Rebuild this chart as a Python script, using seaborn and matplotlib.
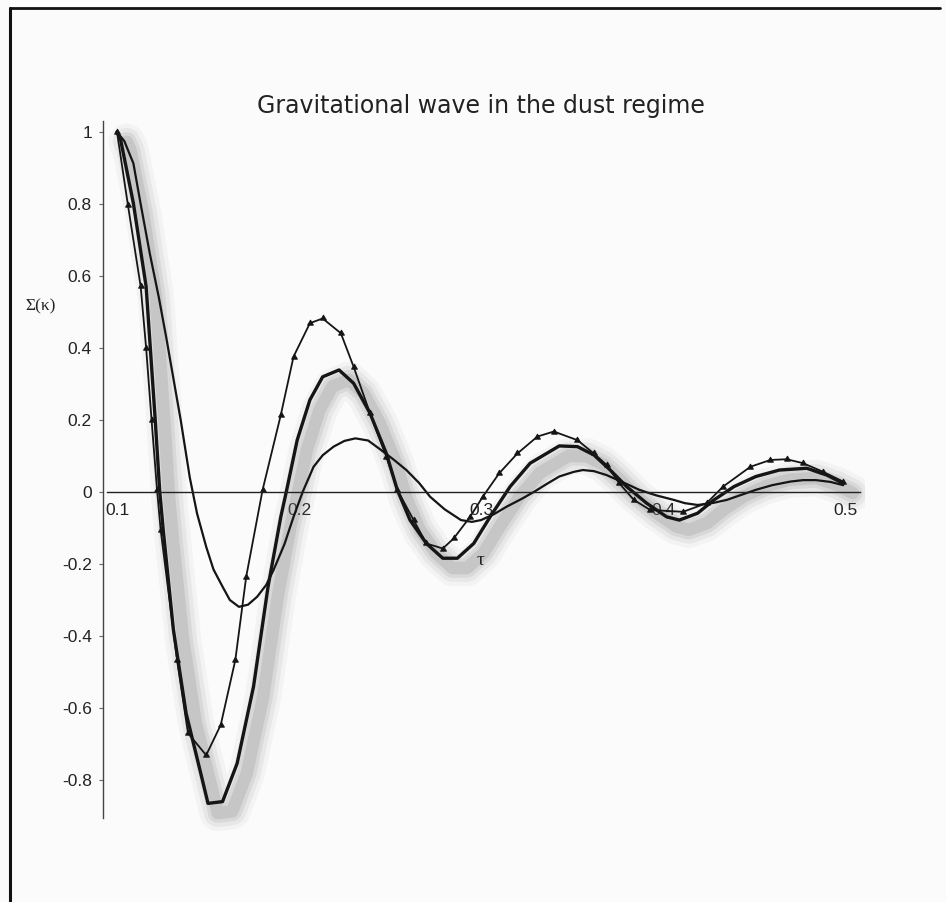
import numpy as np
import pandas as pd
import matplotlib
matplotlib.use("Agg")
import matplotlib.pyplot as plt
import matplotlib.patheffects as pe
from matplotlib.lines import Line2D
from matplotlib.ticker import FuncFormatter
import seaborn as sns

# --- data ---
# curve with markers (thin)
tau_a = [0.100, 0.106, 0.113, 0.116, 0.119, 0.122, 0.124, 0.133, 0.139, 0.149, 0.157, 0.165, 0.171, 0.180,
         0.190, 0.197, 0.206, 0.213, 0.223, 0.230, 0.239, 0.248, 0.254, 0.263, 0.270, 0.279,
         0.285, 0.294, 0.301, 0.310, 0.320, 0.331, 0.340, 0.353, 0.362, 0.369, 0.376, 0.384,
         0.393, 0.411, 0.424, 0.433, 0.448, 0.459, 0.468, 0.477, 0.488, 0.499]
sig_a = [1.000, 0.797, 0.571, 0.400, 0.200, 0.006, -0.106, -0.467, -0.670, -0.731, -0.647, -0.467, -0.235, 0.006,
         0.214, 0.376, 0.469, 0.482, 0.441, 0.348, 0.219, 0.098, 0.006, -0.078, -0.143, -0.157,
         -0.129, -0.069, -0.013, 0.052, 0.107, 0.154, 0.168, 0.144, 0.107, 0.075, 0.024, -0.022,
         -0.050, -0.055, -0.031, 0.015, 0.070, 0.089, 0.091, 0.080, 0.056, 0.029]

# thick curve with shadow
tau_b = [0.100, 0.102, 0.109, 0.116, 0.121, 0.1235, 0.1254, 0.131, 0.138, 0.146, 0.150, 0.158,
         0.166, 0.175, 0.183, 0.190, 0.193, 0.199, 0.206, 0.213, 0.222, 0.230, 0.239, 0.248,
         0.254, 0.261, 0.270, 0.279, 0.287, 0.296, 0.305, 0.316, 0.327, 0.343, 0.353, 0.362,
         0.371, 0.380, 0.391, 0.402, 0.409, 0.419, 0.428, 0.439, 0.451, 0.464, 0.479, 0.490, 0.499]
sig_b = [1.000, 0.978, 0.802, 0.571, 0.200, 0.000, -0.106, -0.383, -0.615, -0.781, -0.865, -0.860,
         -0.754, -0.541, -0.263, -0.069, 0.000, 0.144, 0.256, 0.320, 0.339, 0.302, 0.219, 0.107,
         0.006, -0.078, -0.143, -0.184, -0.184, -0.143, -0.069, 0.015, 0.080, 0.128, 0.126, 0.103,
         0.061, 0.015, -0.031, -0.069, -0.078, -0.059, -0.022, 0.015, 0.043, 0.061, 0.066, 0.047, 0.024]

# smooth thin curve
tau_c = [0.100, 0.104, 0.109, 0.113, 0.118, 0.123, 0.127, 0.131, 0.135, 0.140, 0.144, 0.149, 0.153,
         0.158, 0.162, 0.167, 0.172, 0.177, 0.182, 0.186, 0.192, 0.197, 0.202,
         0.208, 0.213, 0.219, 0.225, 0.231, 0.238, 0.245, 0.252, 0.259, 0.266, 0.272, 0.280,
         0.289, 0.295, 0.300, 0.307, 0.314, 0.322, 0.329, 0.336, 0.343, 0.351,
         0.356, 0.362, 0.369, 0.378, 0.387, 0.396, 0.406, 0.412, 0.419, 0.427, 0.435, 0.443,
         0.451, 0.460, 0.470, 0.477, 0.484, 0.492, 0.499]
sig_c = [1.000, 0.975, 0.913, 0.800, 0.663, 0.540, 0.431, 0.315, 0.200, 0.040, -0.060, -0.152, -0.215,
         -0.263, -0.300, -0.319, -0.313, -0.291, -0.258, -0.217, -0.145, -0.069, 0.000,
         0.070, 0.102, 0.126, 0.142, 0.149, 0.143, 0.117, 0.090, 0.061, 0.025, -0.013, -0.048,
         -0.078, -0.083, -0.078, -0.062, -0.041, -0.020, 0.000, 0.022, 0.043, 0.056,
         0.061, 0.058, 0.047, 0.027, 0.006, -0.009, -0.022, -0.031, -0.036, -0.031, -0.022, -0.008,
         0.006, 0.019, 0.029, 0.033, 0.033, 0.028, 0.019]

y_ticks = [-0.8, -0.6, -0.4, -0.2, 0, 0.2, 0.4, 0.6, 0.8, 1]
x_ticks = [0.1, 0.2, 0.3, 0.4, 0.5]

df_a = pd.DataFrame({"tau": tau_a, "sigma": sig_a})
df_b = pd.DataFrame({"tau": tau_b, "sigma": sig_b})
df_c = pd.DataFrame({"tau": tau_c, "sigma": sig_c})

sns.set_style("white")
plt.rcParams["font.family"] = ["Liberation Sans", "DejaVu Sans"]

W, H = 946, 902
fig = plt.figure(figsize=(W / 100, H / 100), dpi=100)
fig.patch.set_facecolor("#fbfbfb")

# axes placed so 0.1 -> px 117, 0.5 -> px 845 ; y=1 -> px 132, y=0 -> px 492
ax = fig.add_axes([100 / W, (H - 840) / H, 765 / W, 730 / H])
ax.set_facecolor("none")
ax.set_xlim(0.1 - 17 / 1820, 0.5 + 20 / 1820)
ax.set_ylim((492 - 840) / 360, (492 - 110) / 360)

ink = "#151515"

# thick curve with a soft drop shadow
shadow = [pe.SimpleLineShadow(offset=(7, -7), shadow_color="#777777", alpha=a, linewidth=w)
          for a, w in [(0.06, 26), (0.09, 20), (0.13, 14), (0.18, 9)]]
sns.lineplot(data=df_b, x="tau", y="sigma", sort=False, estimator=None, ax=ax,
             color=ink, linewidth=2.4, path_effects=shadow + [pe.Normal()])

sns.lineplot(data=df_c, x="tau", y="sigma", sort=False, estimator=None, ax=ax,
             color=ink, linewidth=1.6)

sns.lineplot(data=df_a, x="tau", y="sigma", sort=False, estimator=None, ax=ax,
             color=ink, linewidth=1.3, marker=(3, 0, 0), markersize=5,
             markeredgewidth=0.6, markeredgecolor=ink, markerfacecolor=ink)

# axes crossing Maple-style
for s in ["top", "right"]:
    ax.spines[s].set_visible(False)
ax.spines["left"].set_position(("data", 0.1 - 14 / 1820))
ax.spines["bottom"].set_position(("data", 0))
ax.spines["left"].set_bounds(-0.905, 1.03)
ax.spines["bottom"].set_bounds(0.1 - 10 / 1820, 0.5 + 15 / 1820)
ax.spines["left"].set_color("#444444")
ax.spines["bottom"].set_color("#222222")
ax.spines["left"].set_linewidth(1.0)
ax.spines["bottom"].set_linewidth(1.0)

ax.set_yticks(y_ticks)
ax.set_xticks(x_ticks)
ax.yaxis.set_major_formatter(FuncFormatter(lambda v, p: "%g" % v))
ax.xaxis.set_major_formatter(FuncFormatter(lambda v, p: "%g" % v))
ax.tick_params(axis="y", direction="out", length=3, width=0.8, color="#666666",
               labelsize=12.5, pad=5, labelcolor="#222222", left=True)
ax.tick_params(axis="x", direction="out", length=0, labelsize=12.5, pad=8, labelcolor="#222222", bottom=True)
for lab in ax.get_xticklabels() + ax.get_yticklabels():
    lab.set_family(["Liberation Sans Narrow", "Liberation Sans", "DejaVu Sans"])

ax.set_xlabel("")
ax.set_ylabel("")

fig.text(481 / W, 1 - 106 / H, "Gravitational wave in the dust regime",
         ha="center", va="center", fontsize=17, color="#222222",
         family=["DejaVu Sans"])
fig.text(41 / W, 1 - 306 / H, "Σ(κ)", ha="center", va="center", fontsize=12.5,
         color="#222222", family=["Liberation Serif", "DejaVu Serif"])
ax.text(0.3, -0.19, "τ", ha="center", va="center", fontsize=14, color="#222222",
        family=["Liberation Serif", "DejaVu Serif"])

# scanned page frame on the left and top
fig.add_artist(Line2D([10 / W, 10 / W], [0, 1 - 8 / H], transform=fig.transFigure,
                      color="#111111", linewidth=2.2))
fig.add_artist(Line2D([10 / W, 940 / W], [1 - 8 / H, 1 - 8 / H], transform=fig.transFigure,
                      color="#111111", linewidth=2.0))

fig.savefig("out.png", dpi=100, facecolor=fig.get_facecolor())
